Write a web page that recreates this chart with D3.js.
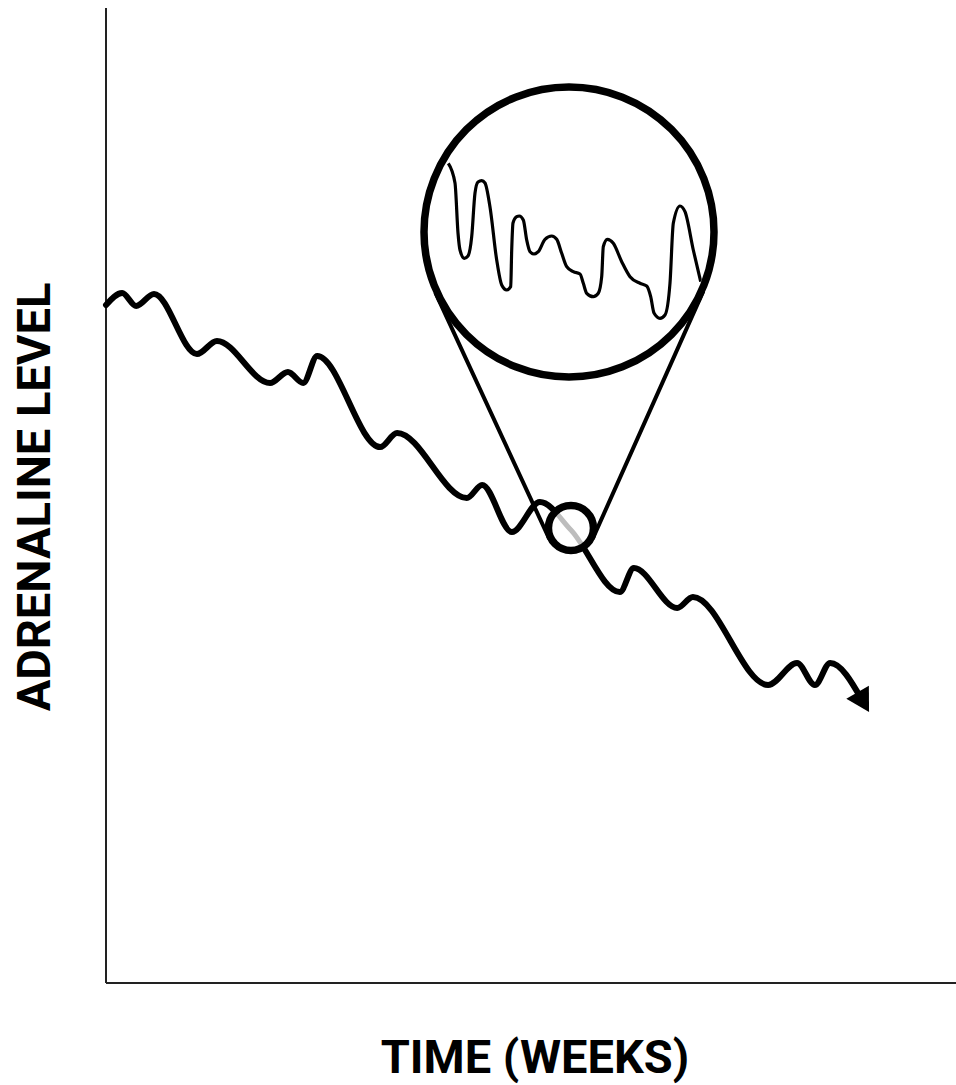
<!DOCTYPE html>
<html>
<head>
<meta charset="utf-8">
<script src="https://cdn.jsdelivr.net/npm/d3@7"></script>
<style>
  html, body { margin: 0; padding: 0; background: #fff; }
  svg { display: block; }
</style>
</head>
<body>
<svg id="chart" width="956" height="1085"></svg>
<script>
// ---- Data ----
const weeks  = [0, 0.38, 0.71, 1.13, 2.14, 2.61, 3.86, 4.28, 4.64, 4.97, 6.45, 6.85, 8.49, 8.85, 9.55, 10.21, 10.94, 12.09, 12.42, 13.44, 13.81, 15.58, 16.26, 16.68, 17.04, 17.79];
const levels = [69.54, 70.77, 69.44, 70.67, 64.51, 65.85, 61.54, 62.67, 61.54, 64.31, 54.97, 56.41, 49.74, 51.08, 46.26, 49.33, 46.46, 40.10, 42.56, 38.46, 39.59, 30.56, 32.82, 30.56, 32.82, 29.03];

// magnified detail (inset) series, in detail units
const detailT = [0.3, 7, 10, 12, 16.3, 20, 23.7, 27, 30, 33.7, 37, 42, 48.7, 53.7, 58.7, 62.7, 63.7, 65, 68.7, 71.3, 75.3, 78.7, 82, 86, 90.3, 97, 103.7, 108.7, 113.7, 118.7, 125.3, 132, 135.3, 138.7, 145.3, 150.3, 153.7, 155.3, 159.3, 165.3, 173.7, 182, 192, 198.7, 202.7, 206, 212, 217, 222, 225.3, 232, 237, 245.3, 252.7];
const detailV = [166.7, 147, 97, 80, 71.7, 74, 93.3, 137, 148, 149.3, 147, 123, 70, 45, 40, 43.3, 80, 107, 113.3, 114, 110, 90, 78.3, 76, 78.3, 90.7, 94, 90.7, 76.7, 63.3, 58.3, 56, 46.7, 36.7, 33.3, 36.7, 53.3, 83.3, 90.7, 86.7, 68.3, 53.3, 46.7, 44, 33.3, 17, 11.7, 15, 47, 106.7, 124, 118.3, 80, 48.3];

// magnified point on the main series (index into weeks/levels)
const focusIndex = 16;

const xLabel = "TIME (WEEKS)";
const yLabel = "ADRENALINE LEVEL";

// ---- Layout ----
const svg = d3.select("#chart");
const x = d3.scaleLinear().domain([0, 20]).range([106, 956]);
const y = d3.scaleLinear().domain([0, 100]).range([983, 8]);

const lens = { cx: x(weeks[focusIndex]), cy: y(levels[focusIndex]) - 2, r: 22.5, sw: 7.5 };
const mag  = { cx: 569, cy: 232, r: 145, sw: 7.5 };

const ix = d3.scaleLinear().domain([0, 253]).range([448, 701]);
const iy = d3.scaleLinear().domain([0, 170]).range([330, 160]);

const defs = svg.append("defs");
defs.append("marker")
  .attr("id", "arrow")
  .attr("markerUnits", "userSpaceOnUse")
  .attr("viewBox", "-10 -14 26 28")
  .attr("markerWidth", 26).attr("markerHeight", 28)
  .attr("refX", 0).attr("refY", 0)
  .attr("orient", "auto")
  .style("overflow", "visible")
  .append("path")
  .attr("d", "M-9,-13 L14,0 L-9,13 Z")
  .attr("fill", "#000");

defs.append("clipPath").attr("id", "lensClip")
  .append("circle").attr("cx", lens.cx).attr("cy", lens.cy).attr("r", lens.r);
defs.append("clipPath").attr("id", "magClip")
  .append("circle").attr("cx", mag.cx).attr("cy", mag.cy).attr("r", mag.r - mag.sw / 2);

// ---- Axes ----
svg.append("line")
  .attr("x1", x(0)).attr("x2", x(0)).attr("y1", y(100)).attr("y2", y(0))
  .attr("stroke", "#222").attr("stroke-width", 2);
svg.append("line")
  .attr("x1", x(0)).attr("x2", x(20)).attr("y1", y(0)).attr("y2", y(0))
  .attr("stroke", "#222").attr("stroke-width", 2);

// ---- Main series ----
const mainData = weeks.map((w, i) => [w, levels[i]]);
const line = d3.line().x(d => x(d[0])).y(d => y(d[1])).curve(d3.curveMonotoneX);

svg.append("path")
  .attr("d", line(mainData))
  .attr("fill", "none").attr("stroke", "#000").attr("stroke-width", 6)
  .attr("stroke-linecap", "round").attr("stroke-linejoin", "round")
  .attr("marker-end", "url(#arrow)");

// ---- Magnifier connector lines (external tangents) ----
const R1 = mag.r + mag.sw / 2, R2 = lens.r + lens.sw / 2;
const dx = lens.cx - mag.cx, dy = lens.cy - mag.cy;
const d = Math.hypot(dx, dy);
const base = Math.atan2(dy, dx);
const alpha = Math.acos((R1 - R2) / d);
[1, -1].forEach(s => {
  const a = base + s * alpha;
  svg.append("line")
    .attr("x1", mag.cx + (R1 - 2) * Math.cos(a)).attr("y1", mag.cy + (R1 - 2) * Math.sin(a))
    .attr("x2", lens.cx + (R2 - 2) * Math.cos(a)).attr("y2", lens.cy + (R2 - 2) * Math.sin(a))
    .attr("stroke", "#000").attr("stroke-width", 4).attr("stroke-linecap", "round");
});

// ---- Lens (small circle) ----
svg.append("circle")
  .attr("cx", lens.cx).attr("cy", lens.cy).attr("r", lens.r)
  .attr("fill", "#fff");
svg.append("path")
  .attr("d", line(mainData))
  .attr("clip-path", "url(#lensClip)")
  .attr("fill", "none").attr("stroke", "#bdbdbd").attr("stroke-width", 5);
svg.append("circle")
  .attr("cx", lens.cx).attr("cy", lens.cy).attr("r", lens.r)
  .attr("fill", "none").attr("stroke", "#000").attr("stroke-width", lens.sw);

// ---- Magnified view (big circle) ----
svg.append("circle")
  .attr("cx", mag.cx).attr("cy", mag.cy).attr("r", mag.r)
  .attr("fill", "#fff");
const detailLine = d3.line().x(d => ix(d[0])).y(d => iy(d[1])).curve(d3.curveMonotoneX);
svg.append("path")
  .attr("d", detailLine(detailT.map((t, i) => [t, detailV[i]])))
  .attr("clip-path", "url(#magClip)")
  .attr("fill", "none").attr("stroke", "#000").attr("stroke-width", 3.2)
  .attr("stroke-linejoin", "round");
svg.append("circle")
  .attr("cx", mag.cx).attr("cy", mag.cy).attr("r", mag.r)
  .attr("fill", "none").attr("stroke", "#000").attr("stroke-width", mag.sw);

// ---- Labels ----
svg.append("text")
  .attr("x", 535).attr("y", 1073)
  .attr("text-anchor", "middle")
  .attr("font-family", "Roboto, 'Liberation Sans', sans-serif")
  .attr("font-weight", 700).attr("font-size", 47)
  .attr("fill", "#000")
  .text(xLabel);
svg.append("text")
  .attr("transform", "translate(50,497) rotate(-90)")
  .attr("text-anchor", "middle")
  .attr("font-family", "Roboto, 'Liberation Sans', sans-serif")
  .attr("font-weight", 700).attr("font-size", 47)
  .attr("fill", "#000")
  .text(yLabel);
</script>
</body>
</html>
